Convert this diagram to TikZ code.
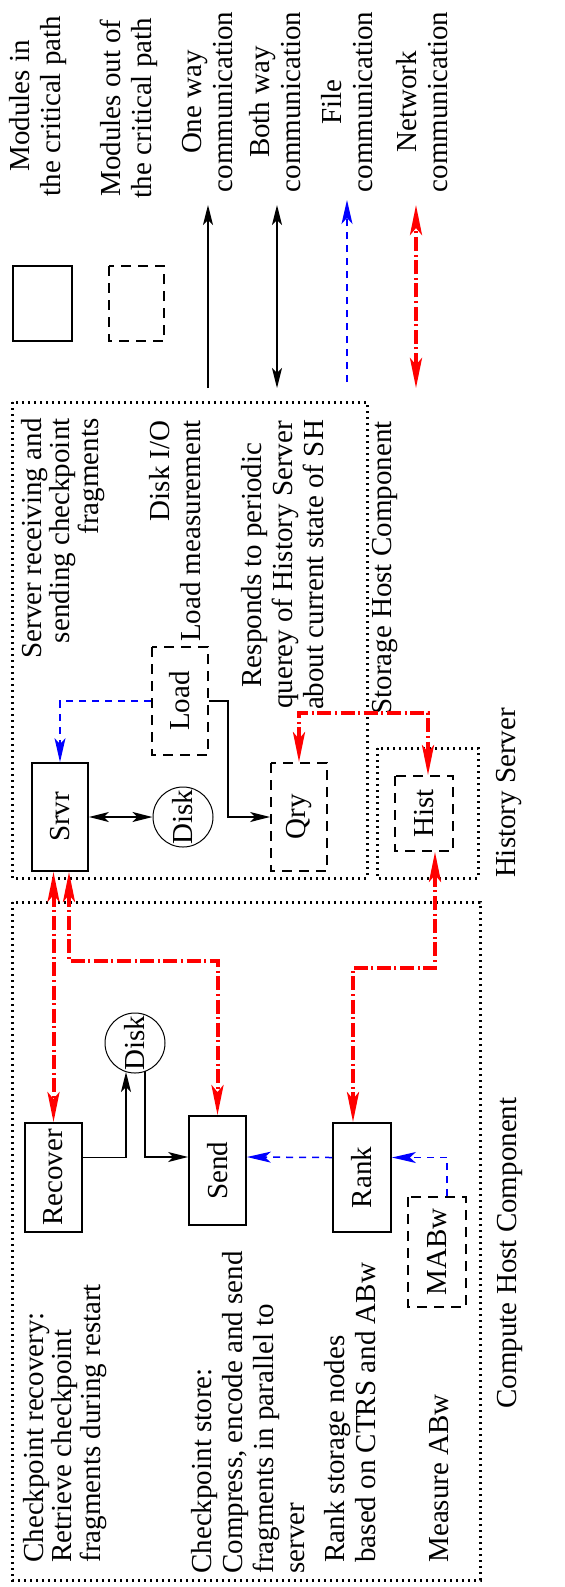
\documentclass[tikz,border=0pt]{standalone}
\usepackage{fontspec}
\setmainfont{Liberation Serif}
\usetikzlibrary{arrows.meta, calc}
\definecolor{netzrot}{HTML}{FF0000}
\definecolor{dateiblau}{HTML}{0000FF}
\newcommand{\bildschrift}{\fontsize{14.5pt}{15.5pt}\selectfont}
\newcommand{\engschrift}{\fontsize{14.5pt}{13pt}\selectfont}

\begin{document}
\begin{tikzpicture}[x=0.5pt, y=-0.5pt,
      every node/.style={font=\bildschrift},
      modul/.style={draw, line width=0.9pt, rotate=90, inner sep=0pt,
        minimum width=54pt, minimum height=28pt},
      modulaus/.style={modul, dash pattern=on 5pt off 3.5pt},
      scheibe/.style={draw, circle, line width=0.5pt, rotate=90,
        minimum size=30pt, inner sep=0pt},
      notiz/.style={rotate=90, inner sep=0pt},
      rahmen/.style={line width=1.5pt, dash pattern=on 1pt off 2pt},
      pfeil/.style={-{Stealth[length=10pt, width=5pt, inset=2.5pt]}, line width=0.75pt},
      doppel/.style={{Stealth[length=10pt, width=5pt, inset=2.5pt]}-{Stealth[length=10pt, width=5pt, inset=2.5pt]}, line width=0.75pt},
      datei/.style={-{Stealth[length=12pt, width=5.5pt, inset=3pt]}, dateiblau,
        line width=0.75pt, dash pattern=on 3.5pt off 3pt},
      netz/.style={{Stealth[length=15pt, width=6pt, inset=3.5pt]}-{Stealth[length=15pt, width=6pt, inset=3.5pt]},
        netzrot, line width=2pt, dash pattern=on 7pt off 1.8pt on 1pt off 1.8pt}]
    \useasboundingbox (0,0) rectangle (565,1587);

    % legend
    \node[modul, minimum width=37.5pt, minimum height=29.5pt] (lmodul) at (42.5,303.5) {};
    \node[modulaus, minimum width=37.5pt, minimum height=27.5pt] (lmodulaus) at (136.5,303.5) {};
    \node[notiz, align=center] (tmodul) at (38,106) {Modules in\\the critical path};
    \node[notiz, align=center] (tmodulaus) at (129,108) {Modules out of\\the critical path};
    \node[notiz, align=center] (teinweg) at (208,102) {One way\\communication};
    \node[notiz, align=center] (tbeide) at (275,102) {Both way\\communication};
    \node[notiz, align=center] (tdatei) at (347,102) {File\\communication};
    \node[notiz, align=center] (tnetz) at (422,102) {Network\\communication};
    \coordinate (e1a) at (208,388); \coordinate (e1b) at (208,205);
    \coordinate (e2a) at (277,388); \coordinate (e2b) at (277,205);
    \coordinate (e3a) at (347,382); \coordinate (e3b) at (347,200);
    \coordinate (e4a) at (416,388); \coordinate (e4b) at (416,205);
    \draw[pfeil] (e1a) -- (e1b);
    \draw[doppel] (e2a) -- (e2b);
    \draw[datei] (e3a) -- (e3b);
    \draw[netz] (e4a) -- (e4b);

    % storage host and history server
    \draw[rahmen] (12,402) rectangle (367,878);
    \draw[rahmen] (377,748) rectangle (478,878);
    \node[notiz, font=\engschrift, align=right, anchor=east] (tsrvr) at (63,418) {Server receiving and\\sending checkpoint\\fragments};
    \node[notiz, align=right, anchor=east] (tload) at (175,420) {Disk I/O\\Load measurement};
    \node[notiz, align=center] (tqry) at (283,565) {Responds to periodic\\querey of History Server\\about current state of SH};
    \node[notiz] (tsh) at (385,568) {Storage Host Component};
    \node[notiz] (ths) at (509,793) {History Server};
    \node[modul] (srvr) at (60,817) {Srvr};
    \node[modulaus] (load) at (180,701) {Load};
    \node[modulaus] (qry) at (299,817) {Qry};
    \node[modulaus, minimum width=37.5pt, minimum height=29pt] (hist) at (424,813.5) {Hist};
    \node[scheibe] (shdisk) at (183,817) {Disk};
    \draw[datei] (load.north) -| (srvr.east);
    \draw[pfeil] (load.south) -- ++(19,0) |- (qry.north);
    \draw[doppel] (srvr) -- (shdisk);
    \draw[netz] (qry.east) -- ++(0,-49) -| ($(hist.east)+(4,0)$);

    % compute host
    \draw[rahmen] (12,902) rectangle (480,1580);
    \node[notiz, font=\engschrift, align=left, anchor=west] (trec) at (65,1563) {Checkpoint recovery:\\Retrieve checkpoint\\fragments during restart};
    \node[notiz, align=left, anchor=west] (tsend) at (248,1574) {Checkpoint store:\\Compress, encode and send\\fragments in parallel to\\server};
    \node[notiz, align=left, anchor=west] (trank) at (350,1563) {Rank storage nodes\\based on CTRS and ABw};
    \node[notiz, anchor=west] (tmabw) at (439,1563) {Measure ABw};
    \node[notiz] (tch) at (510,1253) {Compute Host Component};
    \node[modul, minimum width=54.5pt, minimum height=28.5pt] (recover) at (53.5,1177.5) {Recover};
    \node[modul, minimum width=54.5pt, minimum height=28.5pt] (send) at (217.5,1170.5) {Send};
    \node[modul, minimum width=54.5pt, minimum height=29pt] (rank) at (362,1177.5) {Rank};
    \node[modulaus, minimum width=55pt, minimum height=29pt] (mabw) at (437,1252) {MABw};
    \node[scheibe] (chdisk) at (135,1043) {Disk};
    \draw[pfeil] ($(recover.south)+(0,-20)$) -| ($(chdisk.center)+(-9,29)$);
    \draw[pfeil] ($(chdisk.center)+(10,28)$) |- ($(send.north)+(0,-13.5)$);
    \draw[datei] ($(rank.north)+(0,-20)$) -- ($(send.south)+(0,-13.5)$);
    \draw[datei] ($(mabw.east)+(10,0)$) |- ($(rank.south)+(0,-20)$);

    % network links
    \draw[netz] (recover.east |- srvr.west) -- (recover.east);
    \draw[netz] ($(srvr.west)+(9,0)$) -- ++(0,89) -| (send.east);
    \draw[netz] ($(hist.west)+(11,0)$) -- ++(0,116) -| ($(rank.east)+(-9,0)$);
  \end{tikzpicture}
\end{document}
